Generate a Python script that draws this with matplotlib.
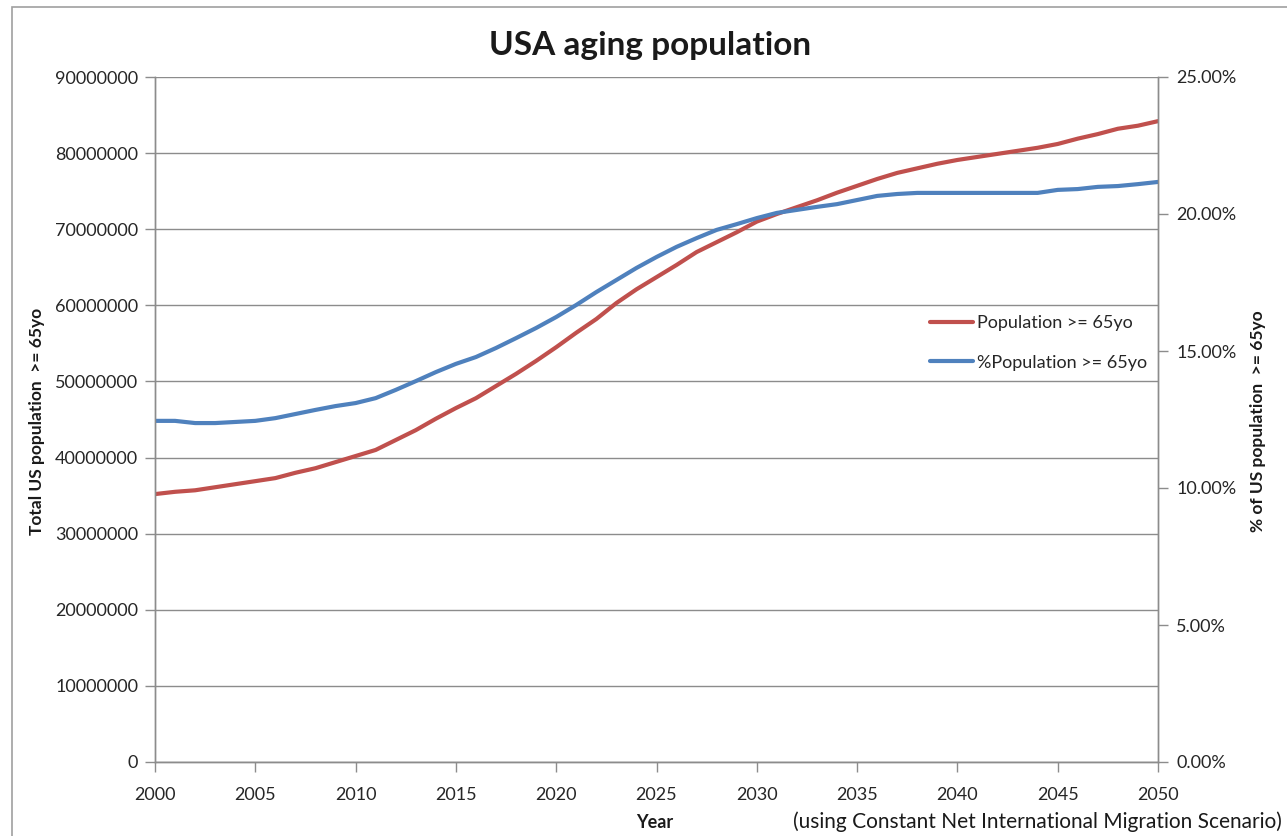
import matplotlib
matplotlib.use("Agg")
import matplotlib.pyplot as plt
from matplotlib.patches import Rectangle
from matplotlib.ticker import FuncFormatter, MultipleLocator

plt.rcParams['font.family'] = ['Lato', 'DejaVu Sans']

# Projection years and values
years = list(range(2000, 2051))

pop_65 = [  # persons aged 65 and over, millions
    35.2, 35.5, 35.7, 36.1, 36.5, 36.9, 37.3, 38.0, 38.6, 39.4,
    40.2, 41.0, 42.3, 43.6, 45.1, 46.5, 47.8, 49.4, 51.0, 52.7,
    54.5, 56.4, 58.2, 60.3, 62.1, 63.7, 65.3, 67.0, 68.3, 69.6,
    71.0, 72.0, 72.9, 73.8, 74.8, 75.7, 76.6, 77.4, 78.0, 78.6,
    79.1, 79.5, 79.9, 80.3, 80.7, 81.2, 81.9, 82.5, 83.2, 83.6,
    84.2,
]

pct_65 = [  # share of total population aged 65 and over, percent
    12.45, 12.45, 12.37, 12.37, 12.41, 12.45, 12.55, 12.70, 12.85, 12.99,
    13.10, 13.28, 13.58, 13.90, 14.23, 14.53, 14.78, 15.11, 15.47, 15.84,
    16.24, 16.68, 17.15, 17.59, 18.03, 18.43, 18.80, 19.12, 19.42, 19.63,
    19.85, 20.04, 20.15, 20.26, 20.36, 20.51, 20.66, 20.73, 20.77, 20.77,
    20.77, 20.77, 20.77, 20.77, 20.77, 20.88, 20.91, 20.99, 21.02, 21.09,
    21.17,
]

title = "USA aging population"
left_label = "Total US population  >= 65yo"
right_label = "% of US population  >= 65yo"
x_label = "Year"
note = "(using Constant Net International Migration Scenario)"
series_names = ["Population >= 65yo", "%Population >= 65yo"]

RED = "#C0504D"
BLUE = "#4F81BD"
GRID = "#8C8C8C"
TEXT = "#262626"

W, H = 1287, 836
fig = plt.figure(figsize=(W / 100, H / 100), dpi=100)
fig.patch.set_facecolor("white")

# chart area frame
fig.patches.append(Rectangle((12 / W, -0.05), 1.2, 0.9916 + 0.05,
                             transform=fig.transFigure, fill=False,
                             edgecolor="#A0A0A0", linewidth=1.2))

ax = fig.add_axes([155 / W, 1 - 762 / H, 1003 / W, 685 / H])
ax2 = ax.twinx()

pop_abs = [v * 1e6 for v in pop_65]
pct_frac = [v / 100 for v in pct_65]

l1, = ax.plot(years, pop_abs, color=RED, linewidth=3.0, solid_capstyle="round")
l2, = ax2.plot(years, pct_frac, color=BLUE, linewidth=3.0, solid_capstyle="round")

ax.set_xlim(2000, 2050)
ax.set_ylim(0, 90e6)
ax2.set_ylim(0, 0.25)

ax.xaxis.set_major_locator(MultipleLocator(5))
ax.yaxis.set_major_locator(MultipleLocator(10e6))
ax2.yaxis.set_major_locator(MultipleLocator(0.05))
ax.yaxis.set_major_formatter(FuncFormatter(lambda v, p: f"{int(round(v))}"))
ax2.yaxis.set_major_formatter(FuncFormatter(lambda v, p: f"{v * 100:.2f}%"))

ax.grid(axis="y", color=GRID, linewidth=1.0)
ax.set_axisbelow(True)

for a in (ax, ax2):
    a.spines["top"].set_visible(False)
    for side in ("left", "right", "bottom"):
        a.spines[side].set_color(GRID)
        a.spines[side].set_linewidth(1.0)
    a.tick_params(colors=GRID, labelcolor=TEXT, labelsize=13, length=7, width=1.0)

ax.tick_params(axis="x", pad=11)
ax.tick_params(axis="y", pad=5)
ax2.tick_params(axis="y", pad=6)

fig.text(650 / W, 1 - 45 / H, title, ha="center", va="center",
         fontsize=24, fontweight="bold", color="#1A1A1A")
fig.text(37 / W, 1 - 421 / H, left_label, rotation=90, ha="center", va="center",
         fontsize=12.5, fontweight="bold", color="#1A1A1A")
fig.text(1258 / W, 1 - 421 / H, right_label, rotation=90, ha="center", va="center",
         fontsize=12.5, fontweight="bold", color="#1A1A1A")
fig.text(655 / W, 1 - 822 / H, x_label, ha="center", va="center",
         fontsize=13, fontweight="bold", color="#1A1A1A")
fig.text(1282 / W, 1 - 822 / H, note, ha="right", va="center",
         fontsize=15, color="#1A1A1A")

leg = ax2.legend([l1, l2], series_names, loc="upper left",
                 bbox_to_anchor=(923 / W, 1 - 308 / H), bbox_transform=fig.transFigure,
                 frameon=False, fontsize=13, handlelength=2.35, handletextpad=0.25,
                 labelspacing=1.3, borderaxespad=0, borderpad=0.4)
for t in leg.get_texts():
    t.set_color(TEXT)

fig.savefig("out.png", dpi=100, facecolor="white")
